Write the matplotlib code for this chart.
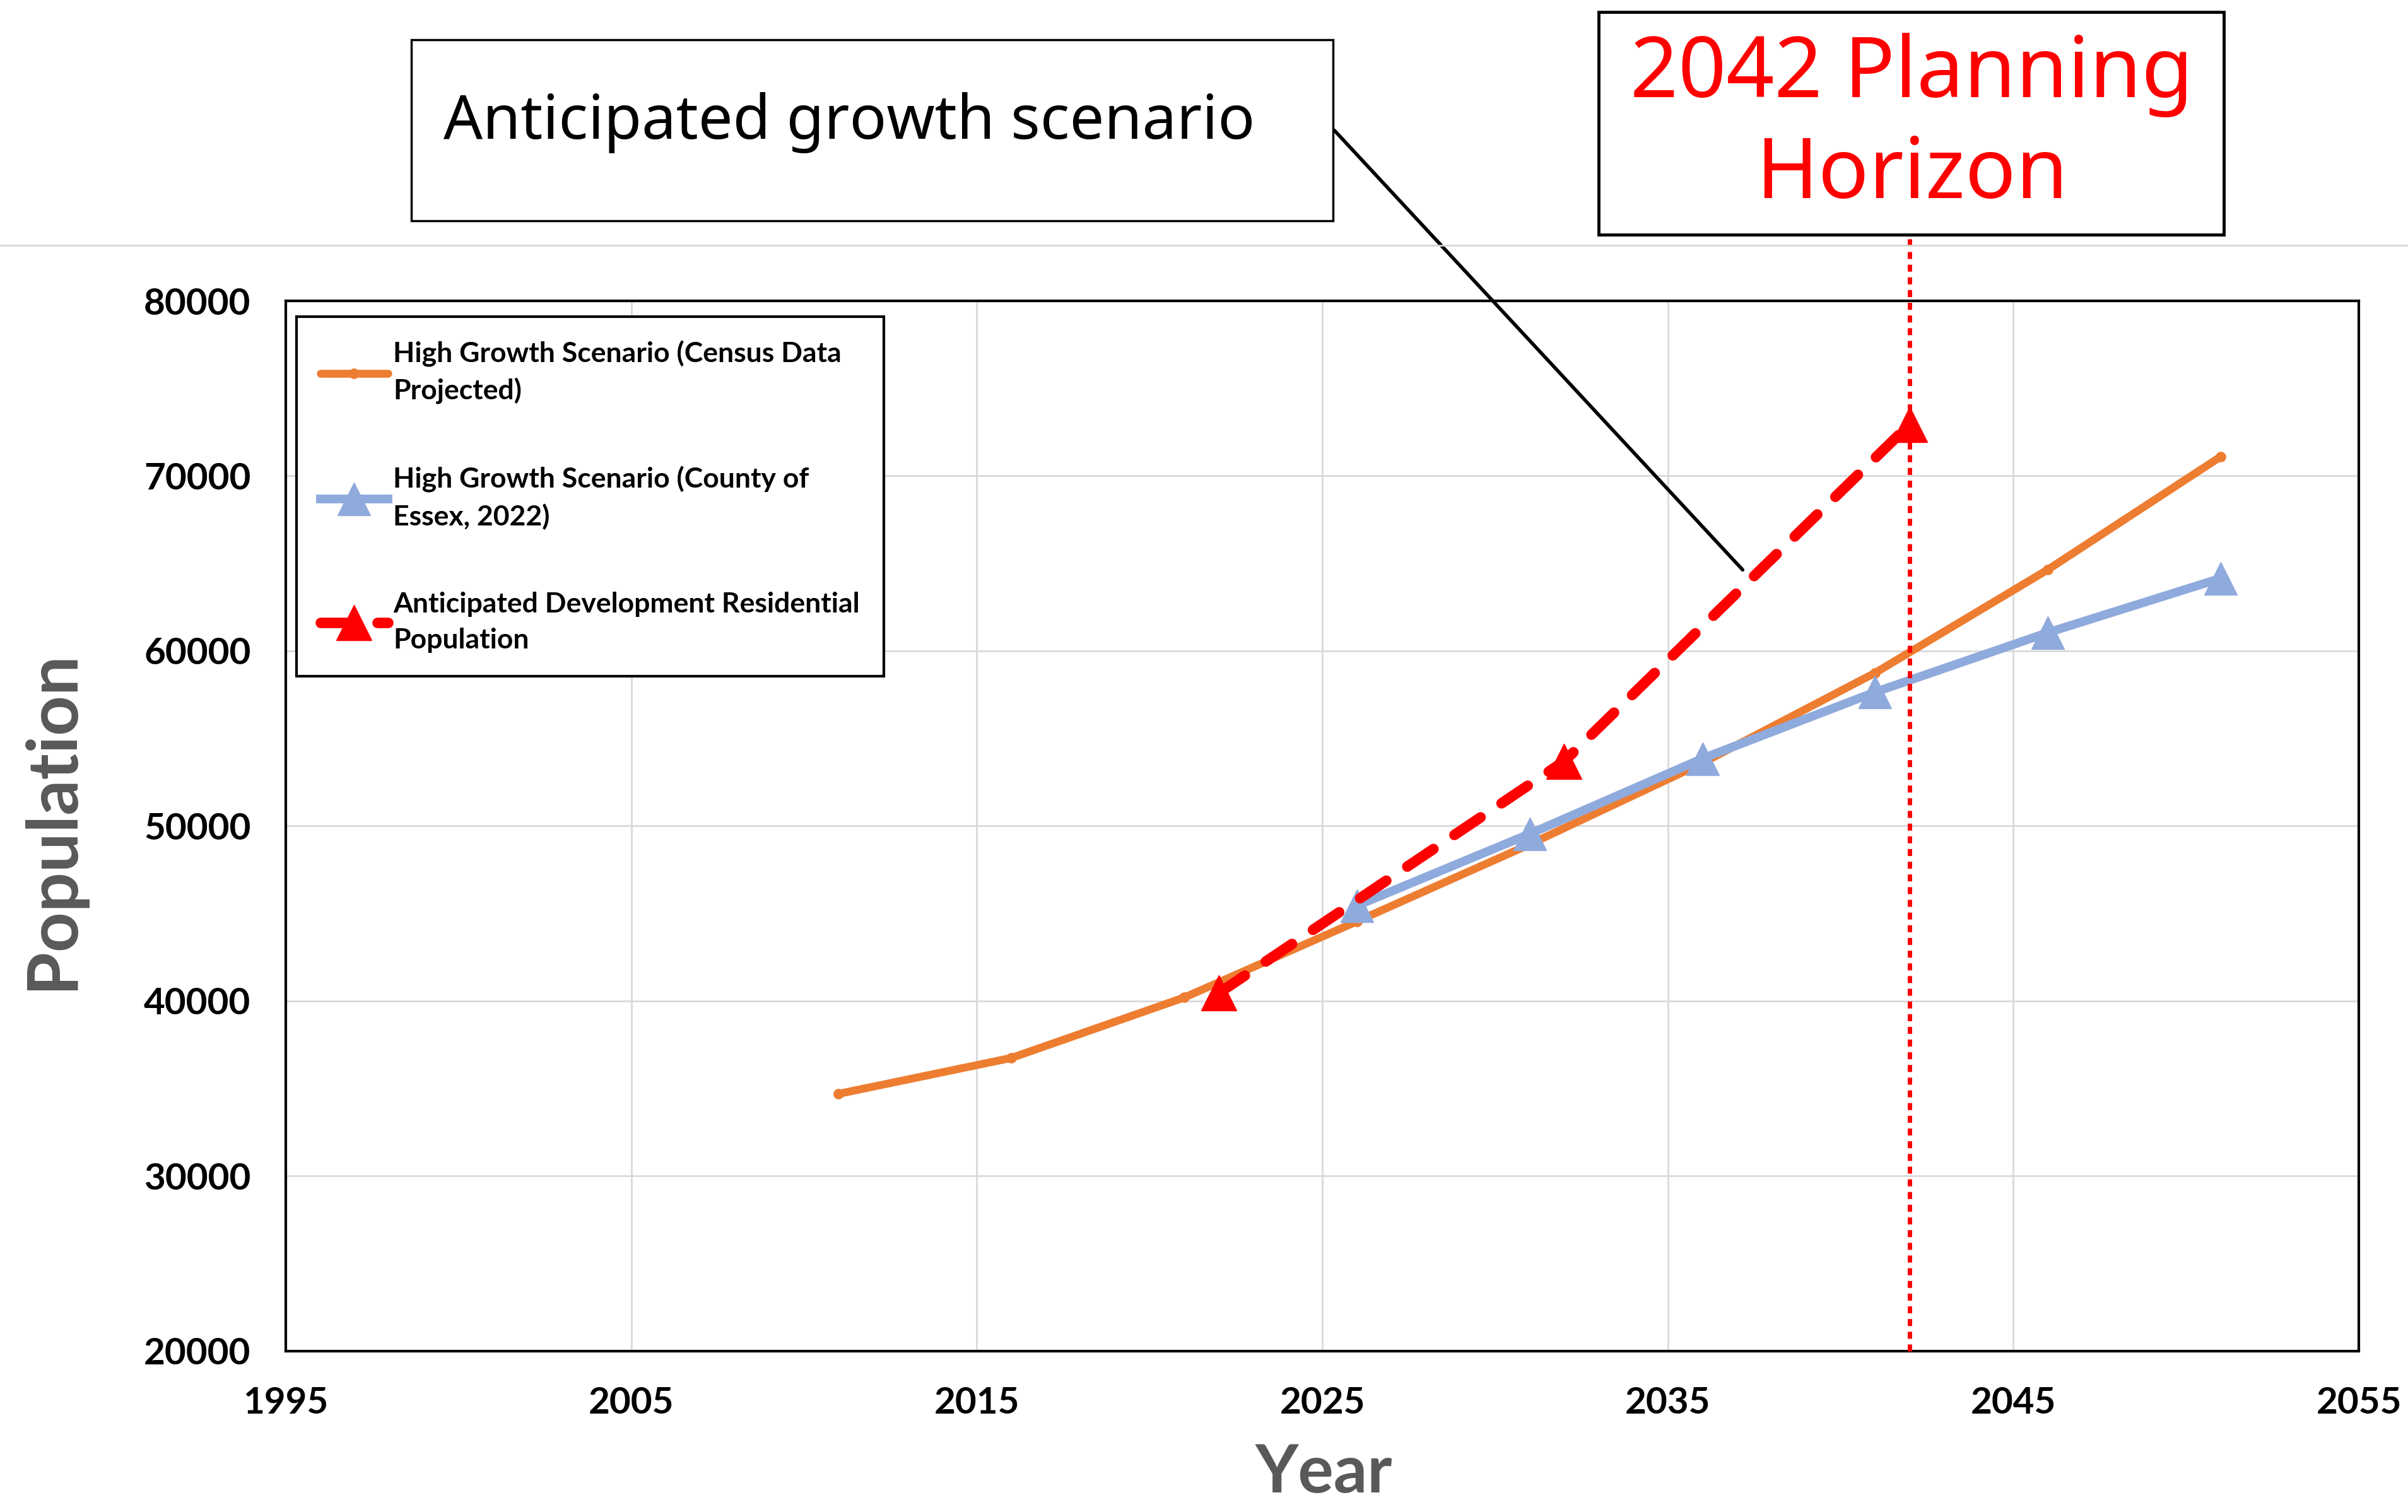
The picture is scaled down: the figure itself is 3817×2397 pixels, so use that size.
import matplotlib
matplotlib.use('Agg')
import matplotlib.pyplot as plt
from matplotlib.patches import Rectangle
from matplotlib.lines import Line2D

# series
census_years = [2011, 2016, 2021, 2026, 2031, 2036, 2041, 2046, 2051]
census_pop = [34700, 36750, 40200, 44550, 48950, 53600, 58750, 64650, 71100]

county_years = [2026, 2031, 2036, 2041, 2046, 2051]
county_pop = [45450, 49550, 53850, 57650, 61050, 64150]

dev_years = [2022, 2032, 2042]
dev_pop = [40450, 53700, 72950]

labels = ['High Growth Scenario (Census Data\nProjected)',
          'High Growth Scenario (County of\nEssex, 2022)',
          'Anticipated Development Residential\nPopulation']

x_ticks = [1995, 2005, 2015, 2025, 2035, 2045, 2055]
y_ticks = [20000, 30000, 40000, 50000, 60000, 70000, 80000]

horizon_year = 2042
callout_point = (2037.2, 64560)

orange = '#ED7D31'
blue = '#8FAADC'
red = '#FF0000'

fig = plt.figure(figsize=(38.17, 23.97), dpi=100)
ax = fig.add_axes([0.1187, 0.1064, 0.8609, 0.6946])

ax.plot(census_years, census_pop, color=orange, lw=9, marker='o', markersize=11,
        solid_capstyle='round', label=labels[0], zorder=3)
ax.plot(county_years, county_pop, color=blue, lw=10, marker='^', markersize=38,
        label=labels[1], zorder=4)
ax.plot(dev_years, dev_pop, color=red, lw=12, marker='^', markersize=40,
        dashes=(3.0, 2.4), dash_capstyle='round', label=labels[2], zorder=5)

ax.set_xlim(1995, 2055)
ax.set_ylim(20000, 80000)
ax.set_xticks(x_ticks)
ax.set_yticks(y_ticks)
ax.set_yticklabels([str(v) for v in y_ticks])
ax.grid(True, color='#d9d9d9', lw=2)
ax.set_axisbelow(True)
ax.tick_params(length=0, pad=40, labelsize=42)
for lab in ax.get_xticklabels() + ax.get_yticklabels():
    lab.set_fontweight('bold')
    lab.set_family('Lato')
for sp in ax.spines.values():
    sp.set_color('black')
    sp.set_linewidth(3)

ax.set_ylabel('Population', fontsize=80, fontweight='bold', color='#595959', family='Lato')
ax.set_xlabel('Year', fontsize=76, fontweight='bold', color='#595959', family='Lato')
ax.yaxis.set_label_coords(-0.097, 0.506)
ax.xaxis.set_label_coords(0.5007, -0.088)

leg = ax.legend(loc='upper left', bbox_to_anchor=(0.0052, 0.985), fancybox=False,
                edgecolor='black', framealpha=1, prop={'family': 'Lato', 'weight': 'bold', 'size': 32},
                labelspacing=2.2, handlelength=2.4, handletextpad=0.2, borderpad=0.85,
                borderaxespad=0)
leg.get_frame().set_linewidth(3)
for t in leg.get_texts():
    t.set_linespacing(1.5)

# 2042 planning horizon line
ax.axvline(horizon_year, ymin=0, ymax=1.063, color=red, lw=5, dashes=(1.6, 1.3),
           clip_on=False, zorder=6)

# thin separator across the top
fig.add_artist(Line2D([0, 1], [0.8376, 0.8376], color='#d6d6d6', lw=2,
                      transform=fig.transFigure))

# callout boxes
fig.add_artist(Rectangle((0.1709, 0.8538), 0.3827, 0.1198, transform=fig.transFigure,
                         facecolor='white', edgecolor='black', lw=2.5))
fig.text(0.1843, 0.9188, 'Anticipated growth scenario', fontsize=70, family='Noto Sans',
         va='center', ha='left')
ax.annotate('', xy=callout_point, xycoords='data', xytext=(0.5536, 0.9147),
            textcoords='figure fraction',
            arrowprops=dict(arrowstyle='-', color='black', lw=4))

fig.add_artist(Rectangle((0.6639, 0.8447), 0.2596, 0.1472, transform=fig.transFigure,
                         facecolor='white', edgecolor='black', lw=3.5))
fig.text(0.794, 0.917, '2042 Planning\nHorizon', fontsize=96, family='Noto Sans',
         color=red, ha='center', va='center', linespacing=1.25)

fig.savefig('out.png', dpi=100)
